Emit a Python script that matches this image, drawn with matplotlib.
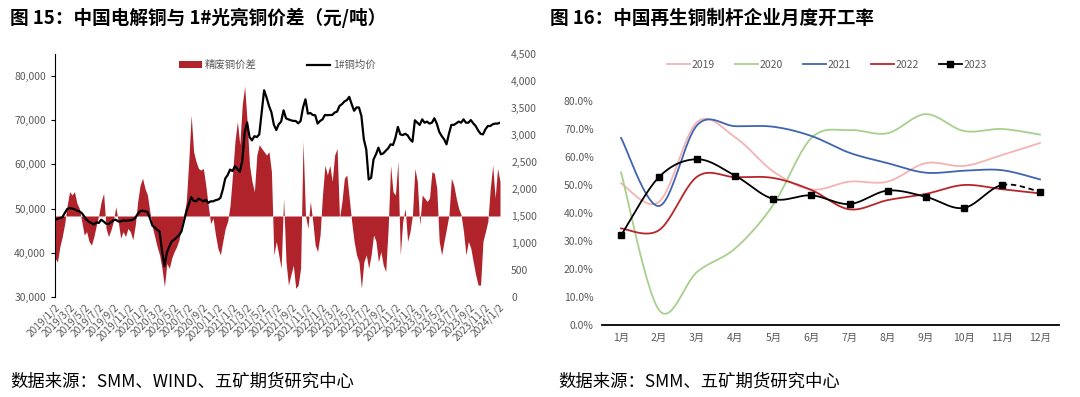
import numpy as np
import pandas as pd
import matplotlib
matplotlib.use('Agg')
import matplotlib.pyplot as plt
import matplotlib.transforms as mtransforms
from matplotlib.patches import Patch
from matplotlib.lines import Line2D
from matplotlib.ticker import FuncFormatter, MultipleLocator

plt.rcParams['font.family'] = ['Noto Sans CJK SC', 'DejaVu Sans']

# ---- 图15 数据：2019/1/2 起每 10 天取样 ----
dates = pd.date_range('2019-01-02', periods=184, freq='10D')
price = [
    47500, 47650, 47900, 48000, 49000, 49900, 50150, 50000, 49900, 49550,
    49400, 49000, 48250, 47500, 47000, 46750, 46400, 46900, 46750, 47500,
    47100, 46600, 46500, 46900, 47350, 47500, 47100, 47100, 47350, 47250,
    47350, 47350, 47500, 47900, 48800, 49400, 49550, 49400, 49250, 47900,
    46200, 45750, 45200, 44850, 40500, 37000, 40000, 41450, 42600, 42950,
    43500, 43950, 44850, 47100, 49250, 50900, 52600, 51800, 51650, 52250,
    52000, 51650, 52000, 51300, 51650, 51650, 51900, 52050, 52400, 54300,
    56800, 57600, 58850, 58500, 59600, 59000, 58350, 60750, 67200, 69500,
    66200, 65450, 66400, 66200, 66800, 71700, 76800, 75150, 73250, 71800,
    69000, 67800, 69100, 69700, 72250, 70450, 70200, 70000, 69850, 69850,
    69300, 69850, 72900, 74750, 71500, 71650, 71200, 71150, 69250, 69850,
    70200, 71200, 71150, 71200, 71200, 71750, 71950, 73250, 73650, 74250,
    74550, 75300, 73650, 72150, 72900, 72900, 71000, 65700, 63400, 56600,
    57000, 61150, 62300, 63800, 62300, 62500, 63100, 63650, 64550, 64400,
    66050, 68500, 66800, 66650, 66950, 66600, 65700, 65150, 70000, 69450,
    68950, 70200, 69450, 69700, 69250, 69450, 70450, 69250, 67400, 66450,
    65700, 64550, 66950, 68950, 68950, 69300, 69700, 69450, 70200, 69450,
    69450, 70050, 69300, 68700, 67700, 66950, 66800, 67950, 68700, 68700,
    69100, 69250, 69250, 69450,
]
spread = [
    720, 650, 930, 1120, 1360, 1700, 1950, 1890, 1950, 1740,
    1640, 1400, 1150, 1210, 1030, 960, 1120, 1330, 1520, 1770,
    1920, 1270, 1120, 1240, 1400, 1670, 1400, 1090, 1210, 1120,
    1270, 1210, 1060, 1330, 1770, 2070, 2200, 2010, 1890, 1580,
    1300, 1120, 930, 780, 530, 190, 620, 530, 720, 840,
    930, 1060, 1330, 1520, 1770, 2510, 3370, 2690, 2510, 2380,
    2350, 2380, 2070, 1700, 1360, 1460, 1150, 900, 780, 1030,
    1270, 1400, 1700, 2260, 2880, 3250, 2820, 3560, 3900, 3250,
    2440, 2140, 1950, 2630, 2820, 2750, 2690, 2630, 2690, 2320,
    780, 1030, 780, 530, 1830, 650, 220, 410, 590, 160,
    220, 530, 2880, 1520, 1270, 1770, 1400, 960, 840, 1150,
    1890, 2440, 2260, 2440, 2140, 2630, 2750, 1460, 1770, 2200,
    2260, 1830, 1400, 1030, 780, 650, 160, 650, 780, 530,
    780, 1150, 1030, 650, 840, 590, 470, 1270, 2440, 1950,
    1890, 2510, 780, 1400, 1640, 1030, 1210, 1520, 2380, 2140,
    1330, 1890, 1830, 1770, 1830, 2320, 2290, 2010, 1030, 780,
    1030, 1270, 1520, 2200, 2070, 1830, 1640, 1520, 1210, 780,
    1030, 900, 650, 410, 220, 220, 1030, 1210, 1400, 2010,
    2440, 1830, 2380, 2140,
]
spread_base = 1500
tick_dates = pd.date_range('2019-01-01', '2024-01-01', freq='2MS') + pd.Timedelta(days=1)

# ---- 图16 数据 ----
months = ['1月', '2月', '3月', '4月', '5月', '6月', '7月', '8月', '9月', '10月', '11月', '12月']
rate_2019 = [50.6, 44.0, 72.5, 67.0, 54.8, 48.4, 51.2, 51.2, 57.8, 56.8, 60.7, 65.0]
rate_2020 = [54.5, 5.3, 19.0, 27.4, 43.0, 66.8, 69.6, 68.5, 75.3, 69.3, 70.0, 68.0]
rate_2021 = [66.8, 42.5, 71.4, 71.0, 70.8, 67.5, 61.5, 57.8, 54.4, 55.1, 55.3, 52.0]
rate_2022 = [34.5, 33.9, 53.0, 52.8, 52.5, 48.2, 41.3, 44.6, 46.8, 50.0, 48.5, 47.0]
rate_2023 = [32.0, 52.9, 59.2, 53.3, 45.0, 46.3, 43.2, 48.0, 45.8, 41.8, 50.0, 47.6]


def smooth(x, y, n=25):
    # Excel 风格平滑线（Catmull-Rom 贝塞尔）
    p = np.column_stack([x, y]).astype(float)
    p = np.vstack([p[0], p, p[-1]])
    out = []
    t = np.linspace(0, 1, n)[:, None]
    for i in range(1, len(p) - 2):
        p0, p1, p2, p3 = p[i - 1], p[i], p[i + 1], p[i + 2]
        c1 = p1 + (p2 - p0) / 6
        c2 = p2 - (p3 - p1) / 6
        seg = (1 - t) ** 3 * p1 + 3 * (1 - t) ** 2 * t * c1 + 3 * (1 - t) * t ** 2 * c2 + t ** 3 * p2
        out.append(seg if i == 1 else seg[1:])
    return np.vstack(out)


W, H = 1080, 397
fig = plt.figure(figsize=(W / 100, H / 100), dpi=100)
grey = '#595959'
red = '#B0232B'

# ---------------- 左图 ----------------
ax = fig.add_axes([55 / W, 1 - 297 / H, 445 / W, 243 / H])
ax2 = ax.twinx()
ax.set_zorder(2)
ax.patch.set_visible(False)

ax2.fill_between(dates, spread_base, spread, color=red, lw=0)
ax2.set_ylim(0, 4500)
ax2.yaxis.set_major_locator(MultipleLocator(500))
ax2.yaxis.set_major_formatter(FuncFormatter(lambda v, p: f'{v:,.0f}'))

ax.plot(dates, price, color='black', lw=1.6)
ax.set_ylim(30000, 85000)
ax.set_yticks(range(30000, 80001, 10000))
ax.yaxis.set_major_formatter(FuncFormatter(lambda v, p: f'{v:,.0f}'))
ax.set_xlim(dates[0], dates[-1])

ax.set_xticks(tick_dates)
ax.set_xticklabels([f'{d.year}/{d.month}/{d.day}' for d in tick_dates])
offset = mtransforms.ScaledTranslation(9 / 100, -4 / 100, fig.dpi_scale_trans)
for lab in ax.get_xticklabels():
    lab.set_rotation(45)
    lab.set_ha('right')
    lab.set_va('top')
    lab.set_rotation_mode('anchor')
    lab.set_transform(lab.get_transform() + offset)
ax.tick_params(axis='x', length=0, labelsize=7.3, colors=grey)
ax.tick_params(axis='y', length=3, labelsize=7.5, colors=grey, color='black')
ax2.tick_params(axis='y', length=0, labelsize=7.5, colors=grey, pad=8)

for s in ['top', 'right', 'bottom']:
    ax.spines[s].set_visible(False)
for s in ax2.spines.values():
    s.set_visible(False)
ax.spines['left'].set_color('black')

handles = [Patch(color=red, lw=0), Line2D([], [], color='black', lw=1.6)]
fig.legend(handles, ['精废铜价差', '1#铜均价'], loc='center',
           bbox_to_anchor=(277 / W, 1 - 65 / H), ncol=2, frameon=False,
           fontsize=7.5, handlelength=2.2, handleheight=0.6, handletextpad=0.3,
           columnspacing=4.8, labelcolor=grey)

# ---------------- 右图 ----------------
bx = fig.add_axes([602 / W, 1 - 325 / H, 457 / W, 224 / H])
x = np.arange(12)
series = [
    ('2019', rate_2019, '#F5B3B3'),
    ('2020', rate_2020, '#A8D08D'),
    ('2021', rate_2021, '#3F64B0'),
    ('2022', rate_2022, '#B8262C'),
]
leg_handles = []
for name, vals, col in series:
    c = smooth(x, vals)
    bx.plot(c[:, 0], c[:, 1], color=col, lw=1.3, clip_on=False)
    leg_handles.append(Line2D([], [], color=col, lw=1.3))

n = 25
c = smooth(x, rate_2023, n)
k = 10 * (n - 1)
bx.plot(c[:k + 1, 0], c[:k + 1, 1], color='black', lw=1.3)
bx.plot(c[k:, 0], c[k:, 1], color='black', lw=1.3, ls=(0, (3, 2)))
bx.plot(x, rate_2023, ls='none', marker='s', ms=5, color='black')
leg_handles.append(Line2D([], [], color='black', lw=1.3, marker='s', ms=5))

bx.set_xlim(-0.5, 11.5)
bx.set_ylim(0, 80)
bx.set_xticks(x)
bx.set_xticklabels(months)
bx.yaxis.set_major_locator(MultipleLocator(10))
bx.yaxis.set_major_formatter(FuncFormatter(lambda v, p: f'{v:.1f}%'))
bx.tick_params(axis='both', length=0, labelsize=7.5, colors=grey)
bx.tick_params(axis='x', pad=6)
bx.tick_params(axis='y', pad=6)
for s in ['top', 'right', 'left']:
    bx.spines[s].set_visible(False)
bx.spines['bottom'].set_color('black')
bx.spines['bottom'].set_linewidth(1.3)

fig.legend(leg_handles, ['2019', '2020', '2021', '2022', '2023'], loc='center',
           bbox_to_anchor=(827 / W, 1 - 65 / H), ncol=5, frameon=False,
           fontsize=7.5, handlelength=2.2, handletextpad=0.2, columnspacing=1.9,
           labelcolor=grey)

# ---------------- 标题与来源 ----------------
fig.text(10 / W, 1 - 18 / H, '图 15：中国电解铜与 1#光亮铜价差（元/吨）',
         fontsize=13.4, fontweight='bold', va='center', ha='left')
fig.text(550 / W, 1 - 18 / H, '图 16：中国再生铜制杆企业月度开工率',
         fontsize=13.4, fontweight='bold', va='center', ha='left')
fig.text(10 / W, 1 - 382 / H, '数据来源：SMM、WIND、五矿期货研究中心',
         fontsize=12.5, va='center', ha='left')
fig.text(558 / W, 1 - 382 / H, '数据来源：SMM、五矿期货研究中心',
         fontsize=12.5, va='center', ha='left')

fig.savefig('out.png', dpi=100)
